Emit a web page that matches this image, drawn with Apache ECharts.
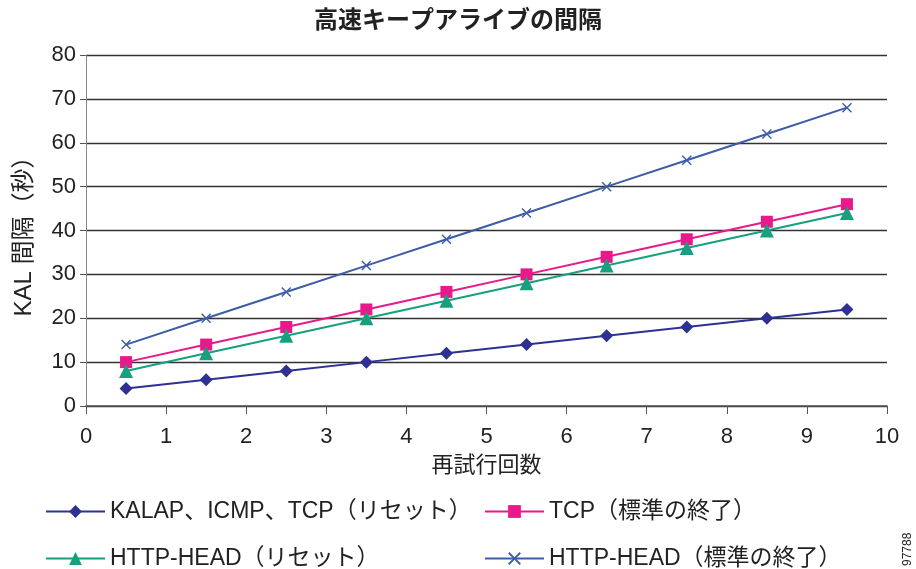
<!DOCTYPE html>
<html>
<head>
<meta charset="utf-8">
<script src="https://cdn.jsdelivr.net/npm/echarts@6/dist/echarts.min.js"></script>
<style>
  html, body { margin:0; padding:0; background:#fff; }
  #chart { width:916px; height:569px; }
</style>
</head>
<body>
<div id="chart"></div>
<script>
const retries = [0.5, 1.5, 2.5, 3.5, 4.5, 5.5, 6.5, 7.5, 8.5, 9.5];
const kalap = [4, 6, 8, 10, 12, 14, 16, 18, 20, 22];
const tcpStd = [10, 14, 18, 22, 26, 30, 34, 38, 42, 46];
const httpReset = [8, 12, 16, 20, 24, 28, 32, 36, 40, 44];
const httpStd = [14, 20, 26, 32, 38, 44, 50, 56, 62, 68];
const seriesNames = ['KALAP、ICMP、TCP（リセット）', 'TCP（標準の終了）', 'HTTP-HEAD（リセット）', 'HTTP-HEAD（標準の終了）'];

const font = '"Liberation Sans", "Noto Sans CJK JP", sans-serif';
const xMark = 'path://M0,1L1,0L5,4L9,0L10,1L6,5L10,9L9,10L5,6L1,10L0,9L4,5Z';

function pairs(vals) { return retries.map((x, i) => [x, vals[i]]); }

function line(name, vals, color, symbol, size) {
  return {
    name: name, type: 'line', data: pairs(vals),
    symbol: symbol, symbolSize: size,
    lineStyle: { color: color, width: 2 },
    itemStyle: { color: color },
    emphasis: { disabled: true }
  };
}

function legendAt(name, left, top) {
  return {
    data: [name], left: left, top: top, itemWidth: 59, itemHeight: 16, itemGap: 0,
    textStyle: { fontFamily: font, fontSize: 23, color: '#222' },
    selectedMode: false
  };
}

const chart = echarts.init(document.getElementById('chart'));
chart.setOption({
  backgroundColor: '#fff',
  animation: false,
  title: { text: '高速キープアライブの間隔', left: 'center', top: 4,
    textStyle: { fontFamily: font, fontSize: 24, fontWeight: 'bold', color: '#222' } },
  grid: { left: 86, right: 29, top: 55, bottom: 163, outerBoundsMode: 'none' },
  legend: [
    legendAt(seriesNames[0], 40, 495),
    legendAt(seriesNames[1], 479, 495),
    legendAt(seriesNames[2], 40, 542),
    legendAt(seriesNames[3], 479, 542)
  ],
  xAxis: {
    type: 'value', min: 0, max: 10, interval: 1,
    name: '再試行回数', nameLocation: 'middle', nameGap: 49,
    nameTextStyle: { fontFamily: font, fontSize: 22, color: '#222' },
    axisLine: { lineStyle: { color: '#555', width: 1.5 } },
    axisTick: { show: true, length: 8, lineStyle: { color: '#555' } },
    axisLabel: { fontFamily: font, fontSize: 22, color: '#222', margin: 20 },
    splitLine: { show: false }
  },
  yAxis: {
    type: 'value', min: 0, max: 80, interval: 10,
    name: 'KAL 間隔（秒）', nameLocation: 'middle', nameGap: 50,
    nameTextStyle: { fontFamily: font, fontSize: 24, color: '#222' },
    axisLine: { show: true, lineStyle: { color: '#888', width: 1 } },
    axisTick: { show: true, length: 6, lineStyle: { color: '#555' } },
    axisLabel: { fontFamily: font, fontSize: 22, color: '#222', margin: 10 },
    splitLine: { lineStyle: { color: '#333', width: 1.3 } }
  },
  series: [
    line(seriesNames[0], kalap, '#2e3192', 'diamond', 13),
    line(seriesNames[1], tcpStd, '#e8198b', 'rect', 12),
    line(seriesNames[2], httpReset, '#16a07e', 'triangle', 14),
    line(seriesNames[3], httpStd, '#3d5ca8', xMark, 10)
  ],
  graphic: [{
    type: 'text', x: 902, y: 566, rotation: Math.PI / 2,
    style: { text: '97788', fontFamily: font, fontSize: 12, fill: '#222' }
  }]
});
</script>
</body>
</html>
